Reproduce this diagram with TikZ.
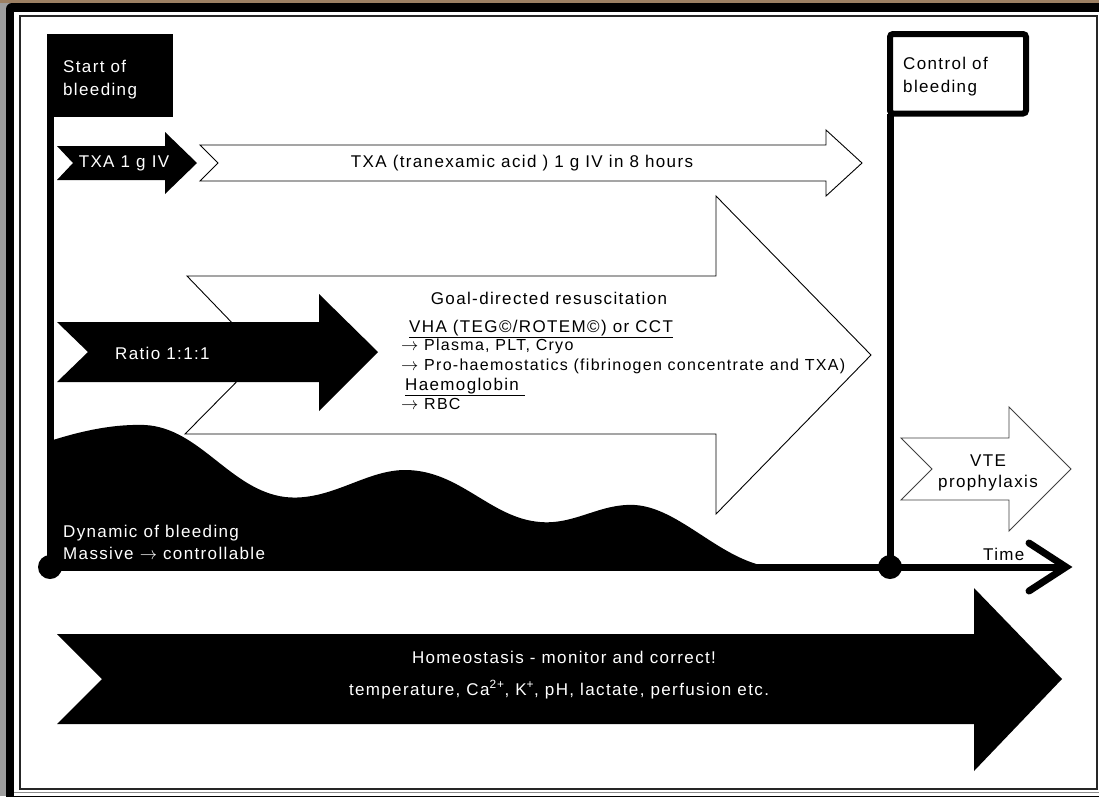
\documentclass[tikz,border=0pt]{standalone}
\usepackage{fontspec}
\setmainfont{Liberation Sans}[LetterSpace=8]
\usetikzlibrary{calc}
\begin{document}
\begin{tikzpicture}[x=1pt,y=-1pt,
  lbl/.style={font=\fontsize{17}{20}\selectfont, inner sep=0},
  sml/.style={font=\fontsize{16}{19}\selectfont, inner sep=0},
  axis/.style={line width=7pt},
  dot/.style={circle, fill=black, minimum size=24pt, inner sep=0},
  openarrow/.style={draw=black, fill=white, line width=0.9pt},
  solidarrow/.style={fill=black}]
\useasboundingbox (0,0) rectangle (1099,796);

% surround and frame
\fill[black!38] (0,0) rectangle (1099,796);
\fill[brown!45!gray] (0,0) rectangle (1099,3);
\fill[black, rounded corners=6pt] (6,3) rectangle (1120,820);
\fill[white] (14,12) rectangle (1099,796);
\draw[black!85, line width=2pt] (19.5,15.5) rectangle (1097,789);
\draw[black!45, line width=1.2pt] (14,792.5) -- (1099,792.5);

% wide open arrow: goal-directed resuscitation
\draw[openarrow] (187,276) -- (716,276) -- (716,196) -- (871,355) -- (716,514)
  -- (716,434) -- (185,434) -- (263,355) -- cycle;

% bleeding dynamics
\fill[black] (53,567) -- (53,440) .. controls (85,430) and (115,424) .. (145,425)
  .. controls (200,428) and (230,490) .. (285,497)
  .. controls (330,502) and (365,470) .. (405,470)
  .. controls (460,470) and (490,518) .. (540,522)
  .. controls (575,525) and (600,503) .. (635,505)
  .. controls (680,508) and (720,560) .. (770,567) -- cycle;

% start of bleeding
\node[fill=black, minimum width=126pt, minimum height=83pt, anchor=north west,
  inner sep=0, outer sep=0] (startbox) at (47,34) {};
\node[lbl, white, anchor=base west] (start1) at (63,72) {Start of};
\node[lbl, white, anchor=base west] (start2) at (63,95) {bleeding};

% control of bleeding
\node[draw=black, line width=6pt, rounded corners=3pt, minimum width=136pt,
  minimum height=79.5pt, anchor=north west, inner sep=0, outer sep=0] (ctrlbox) at (890,34) {};
\node[lbl, anchor=base west] (ctrl1) at (903,69) {Control of};
\node[lbl, anchor=base west] (ctrl2) at (903,92) {bleeding};

% time axis
\node[dot] (d0) at (50,567) {};
\node[dot] (d1) at (890,567) {};
\coordinate (tend) at (1066,567);
\draw[axis] ([xshift=3pt]startbox.south west) -- (d0.center);
\draw[axis] (ctrlbox.south west) -- (d1.center);
\draw[axis] (d0.center) -- (tend);
\draw[axis, line cap=round, line join=miter] ($(tend)+(-37,-24)$) -- (tend) -- ($(tend)+(-37,24)$);
\node[lbl, anchor=base west] (time) at (983,560) {Time};

% TXA bolus
\fill[solidarrow] (57,146) -- (165,146) -- (165,132) -- (197,163) -- (165,194)
  -- (165,180) -- (57,180) -- (73,163) -- cycle;
\node[lbl, white] (txa1) at (124,163) {TXA 1 g IV};

% TXA infusion
\draw[openarrow] (200,145) -- (826,145) -- (826,130) -- (862,163) -- (826,196)
  -- (826,181) -- (200,181) -- (218,163) -- cycle;
\node[lbl] (txa2) at (522,163) {TXA (tranexamic acid ) 1 g IV in 8 hours};

% fixed ratio
\fill[solidarrow] (57,322) -- (319,322) -- (319,294) -- (378,352) -- (319,411)
  -- (319,382) -- (57,382) -- (88,352) -- cycle;
\node[lbl, white, anchor=west] (ratio) at (115,353) {Ratio 1:1:1};

% goal-directed text
\node[lbl, anchor=base] (goal) at (549,304) {Goal-directed resuscitation};
\node[lbl, anchor=base west] (vha) at (409,332) {\underline{VHA (TEG©/ROTEM©) or CCT}};
\node[sml, anchor=base west] (plasma) at (401,350) {$\rightarrow$ Plasma, PLT, Cryo};
\node[sml, anchor=base west] (pro) at (401,370) {$\rightarrow$ Pro-haemostatics (fibrinogen concentrate and TXA)};
\node[lbl, anchor=base west] (hb) at (405,390) {\underline{Haemoglobin\ }};
\node[sml, anchor=base west] (rbc) at (401,409) {$\rightarrow$ RBC};

% dynamics label
\node[lbl, white, anchor=base west] (dyn1) at (63,537) {Dynamic of bleeding};
\node[lbl, white, anchor=base west] (dyn2) at (63,559) {Massive $\rightarrow$ controllable};

% VTE prophylaxis
\draw[openarrow, draw=black!75] (901,438) -- (1009,438) -- (1009,407) -- (1071,469)
  -- (1009,531) -- (1009,500) -- (901,500) -- (932,469) -- cycle;
\node[lbl, anchor=base] (vte1) at (988,466) {VTE};
\node[lbl, anchor=base] (vte2) at (988,487) {prophylaxis};

% homeostasis
\fill[solidarrow] (57,634) -- (974,634) -- (974,588) -- (1062,679) -- (974,771)
  -- (974,724) -- (57,724) -- (102,679) -- cycle;
\node[lbl, white, anchor=base] (homeo1) at (564,663) {Homeostasis - monitor and correct!};
\node[lbl, white, anchor=base] (homeo2) at (559,695)
  {temperature, Ca\textsuperscript{2+}, K\textsuperscript{+}, pH, lactate, perfusion etc.};
\end{tikzpicture}
\end{document}
